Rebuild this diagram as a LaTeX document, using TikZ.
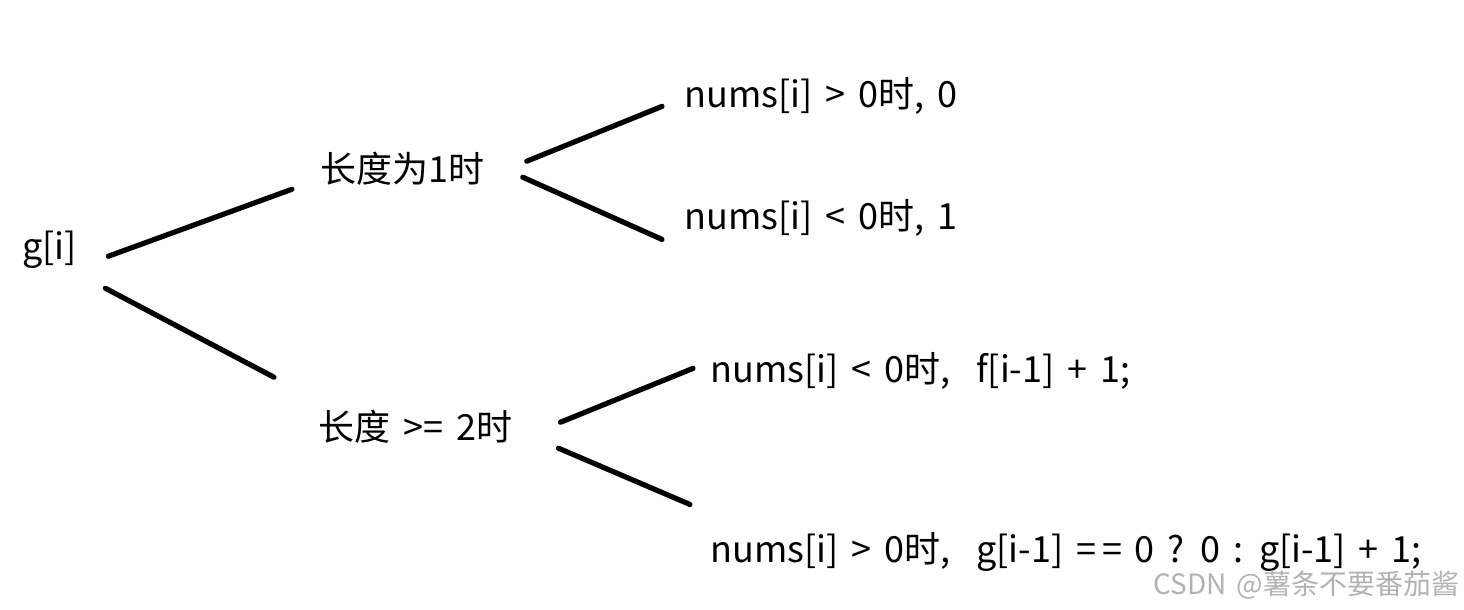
\documentclass[tikz,border=0pt]{standalone}
\usepackage{fontspec}
\setmainfont{Noto Sans CJK SC}[WordSpace=1.6]
\usepackage{tikz}
\usetikzlibrary{positioning}
\tikzstyle{item} = [anchor=base west, inner sep=0pt, font=\fontsize{18}{22}\selectfont]
\tikzstyle{branch} = [line width=2.6pt, line cap=round]
\tikzstyle{stamp} = [anchor=base west, inner sep=0pt, text=black!30, font=\fontsize{14}{16}\selectfont]

\begin{document}
\begin{tikzpicture}[x=0.5pt,y=-0.5pt]
\useasboundingbox (0,0) rectangle (1464,610);

\node[item] (gi) at (22,260) {g[i]};
\node[item] (len1) at (320,183) {长度为1时};
\node[item] (len2) at (318,440) {长度 >= 2时};
\node[item] (pos1) at (684,108) {nums[i] > 0时, 0};
\node[item] (neg1) at (684,229) {nums[i] < 0时, 1};
\node[item] (neg2) at (710,382) {nums[i] < 0时,\ \ f[i-1] + 1;};
\node[item] (pos2) at (710,562) {nums[i] > 0时,\ \ g[i-1] =\,= 0 ? 0 : g[i-1] + 1;};
\node[stamp] (wm) at (1153,594) {CSDN @薯条不要番茄酱};

\draw[branch] ([xshift=15.5pt,yshift=-3pt]gi.east) -- ([xshift=-14pt,yshift=-10pt]len1.west);
\draw[branch] ([xshift=14pt,yshift=-19pt]gi.east) -- ([xshift=-22pt,yshift=24.5pt]len2.west);
\draw[branch] ([xshift=21pt,yshift=4pt]len1.east) -- ([xshift=-11pt,yshift=-5pt]pos1.west);
\draw[branch] ([xshift=19pt,yshift=-4pt]len1.east) -- ([xshift=-11pt,yshift=-11pt]neg1.west);
\draw[branch] ([xshift=24pt,yshift=2pt]len2.east) -- ([xshift=-8.5pt,yshift=1pt]neg2.west);
\draw[branch] ([xshift=23pt,yshift=-11pt]len2.east) -- ([xshift=-10pt,yshift=23.5pt]pos2.west);
\end{tikzpicture}
\end{document}
